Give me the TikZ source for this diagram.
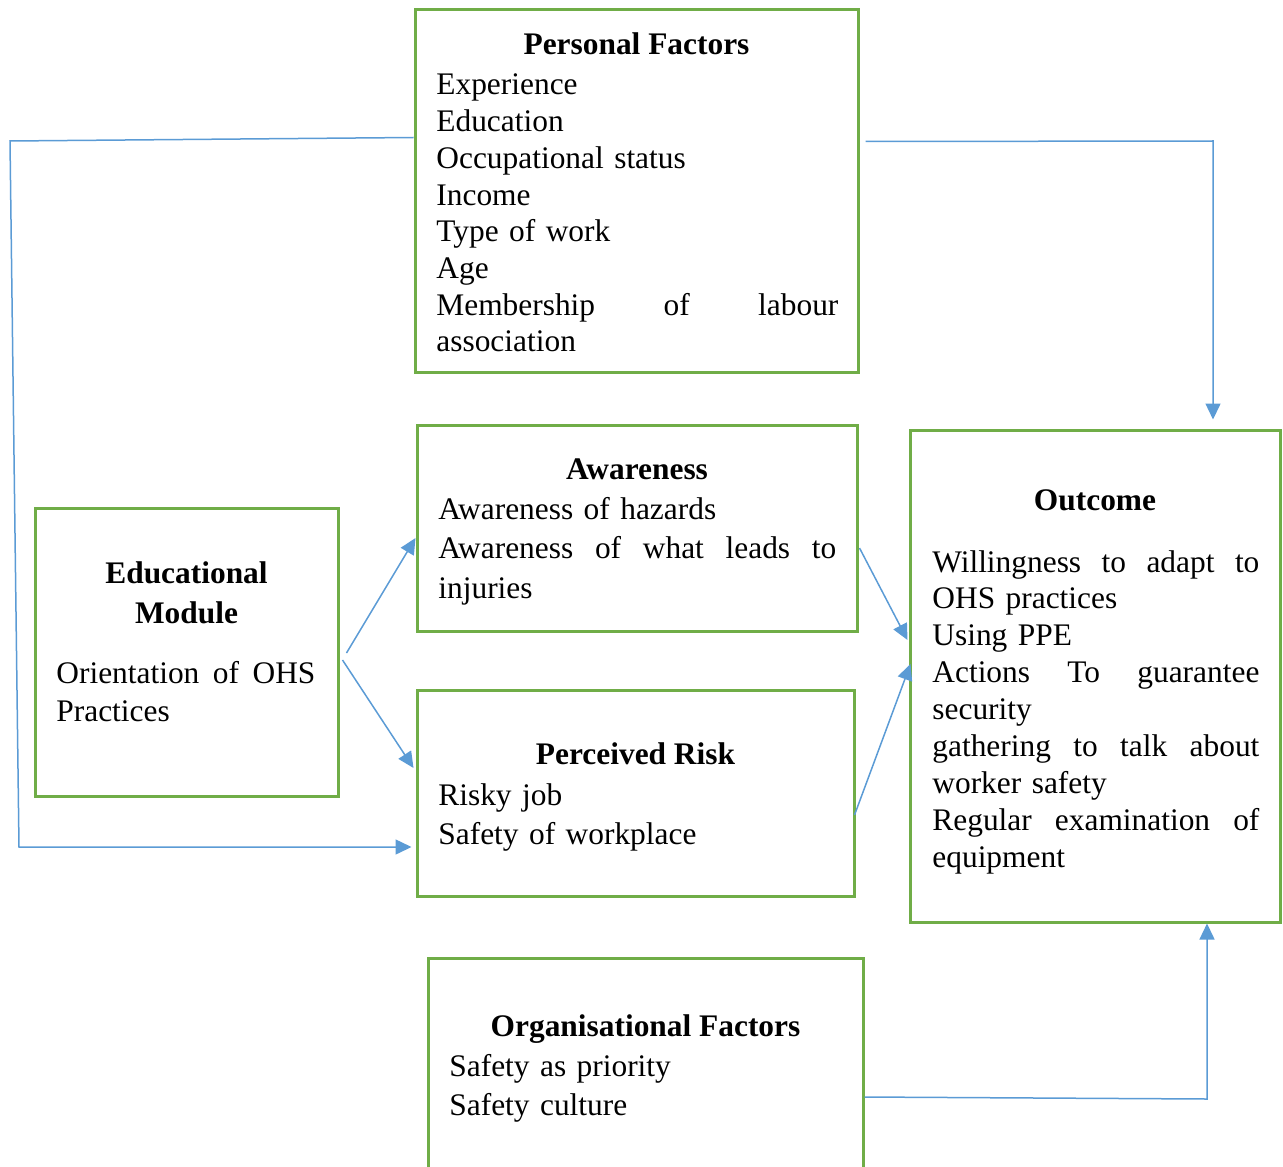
\documentclass[tikz,border=0pt]{standalone}
\usepackage{fontspec}
\setmainfont{Liberation Serif}
\usetikzlibrary{arrows.meta,calc}
\definecolor{boxgreen}{HTML}{70AD47}
\definecolor{linkblue}{HTML}{5B9BD5}
\tikzset{
  factorbox/.style={draw=boxgreen, line width=1.5pt, inner sep=0pt, fill=none},
  boxtitle/.style={anchor=base, inner sep=0pt, align=center, font=\fontsize{15.7}{20}\selectfont\bfseries},
  boxbody/.style={anchor=base west, inner sep=0pt, align=left},
  conn/.style={draw=linkblue, line width=0.75pt},
  arr/.style={conn, -{Triangle[length=8pt,width=7.5pt]}}
}
\begin{document}
\begin{tikzpicture}[x=0.5pt,y=-0.5pt]
\useasboundingbox (0,0) rectangle (1283,1166);
\clip (0,0) rectangle (1283,1166);

% boxes
\node[factorbox, minimum width=221.5pt, minimum height=181pt] (PF) at (636.5,191) {};
\node[factorbox, minimum width=220pt, minimum height=103pt] (AW) at (637,528) {};
\node[factorbox, minimum width=218.5pt, minimum height=103pt] (PR) at (635.5,793) {};
\node[factorbox, minimum width=151.5pt, minimum height=144pt] (EM) at (186.5,652) {};
\node[factorbox, minimum width=185pt, minimum height=246pt] (OC) at (1095,676) {};
\node[factorbox, minimum width=217.5pt, minimum height=121pt] (OF) at (645.5,1079) {};

% Personal factors
\node[boxtitle] (PFt) at (636.5,55) {Personal Factors};
\node[boxbody, text width=201pt, font=\fontsize{15.7}{18.35}\selectfont] (PFb) at (436,95)
  {Experience\\Education\\Occupational status\\Income\\Type of work\\Age\\Membership\hfill of\hfill labour\\association};

% Awareness
\node[boxtitle] (AWt) at (637,479) {Awareness};
\node[boxbody, text width=199pt, font=\fontsize{15.7}{19.75}\selectfont] (AWb) at (438,519)
  {Awareness of hazards\\Awareness\hfill of\hfill what\hfill leads\hfill to\\injuries};

% Perceived risk
\node[boxtitle] (PRt) at (635.5,764) {Perceived Risk};
\node[boxbody, text width=199pt, font=\fontsize{15.7}{19.5}\selectfont] (PRb) at (438,805)
  {Risky job\\Safety of workplace};

% Educational module (base anchor of a centred multi-line node is its last line)
\node[boxtitle] (EMt) at (186.5,623) {Educational\\Module};
\node[boxbody, text width=129.5pt, font=\fontsize{15.7}{19}\selectfont] (EMb) at (56,683)
  {Orientation\hfill of\hfill OHS\\Practices};

% Outcome
\node[boxtitle] (OCt) at (1095,510) {Outcome};
\node[boxbody, text width=163.5pt, font=\fontsize{15.7}{18.45}\selectfont] (OCb) at (932,572)
  {Willingness\hfill to\hfill adapt\hfill to\\OHS practices\\Using PPE\\Actions\hfill To\hfill guarantee\\security\\gathering\hfill to\hfill talk\hfill about\\worker safety\\Regular\hfill examination\hfill of\\equipment};

% Organisational factors
\node[boxtitle] (OFt) at (645.5,1036) {Organisational Factors};
\node[boxbody, text width=200pt, font=\fontsize{15.7}{19.5}\selectfont] (OFb) at (449,1076)
  {Safety as priority\\Safety culture};

% connector bends
\coordinate (c1) at (10,141);
\coordinate (c2) at (19,847);
\coordinate (c3) at (1213,141);
\coordinate (c5) at (1207,1099);

% connectors
\draw[arr, shorten >=2pt] ($(PF.north west)+(0,129)$) -- (c1) -- (c2) -- (PR.west |- c2);
\draw[arr, shorten >=4.5pt] ($(PF.north east)+(6,133)$) -- (c3) -- (c3 |- OC.north);
\draw[arr] ($(EM.east)+(7,1)$) -- ($(AW.west)+(0,10)$);
\draw[arr] ($(EM.east)+(3,8)$) -- ($(PR.west)+(-2,-25)$);
\draw[arr] ($(AW.east)+(1,20)$) -- ($(OC.west)+(-1,-36)$);
\draw[arr] ($(PR.east)+(-1,22)$) -- ($(OC.west)+(2,-12)$);
\draw[arr] ($(OF.east)+(0,18)$) -- (c5) -- (c5 |- OC.south);
\end{tikzpicture}
\end{document}
